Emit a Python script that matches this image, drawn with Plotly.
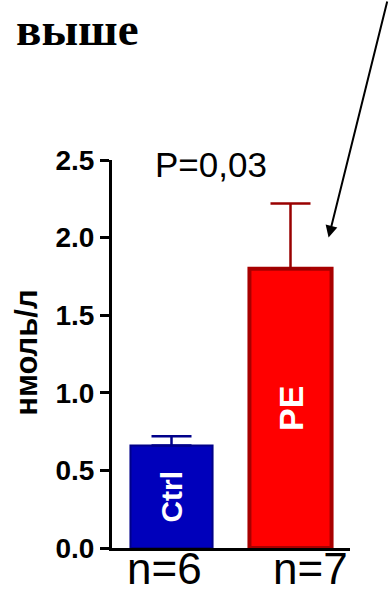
import plotly.graph_objects as go

groups = ["Ctrl", "PE"]
means = [0.66, 1.80]
sems = [0.06, 0.42]
n_labels = ["n=6", "n=7"]
fill_colors = ["#0000bb", "#ff0000"]
edge_colors = ["#00008a", "#a80000"]
err_colors = ["#00008a", "#990000"]
edge_widths = [2, 4]
y_ticks = [0.0, 0.5, 1.0, 1.5, 2.0, 2.5]
title_text = "выше"
y_label = "нмоль/л"
p_text = "P=0,03"

fig = go.Figure()
for i, g in enumerate(groups):
    fig.add_trace(go.Bar(
        x=[i], y=[means[i]], width=0.69,
        marker=dict(color=fill_colors[i], line=dict(color=edge_colors[i], width=edge_widths[i])),
        error_y=dict(type="data", symmetric=False, array=[sems[i]], arrayminus=[0],
                     color=err_colors[i], thickness=2.5, width=20),
        text=[g], textposition="inside", insidetextanchor="middle", textangle=-90,
        textfont=dict(family="Liberation Sans", size=30 if i == 0 else 34, color="white", weight="bold"),
        constraintext="none", cliponaxis=False, showlegend=False,
    ))

annotations = [
    dict(text=title_text, xref="paper", yref="paper", x=0, y=1, xanchor="left", yanchor="top",
         xshift=-98, yshift=159, showarrow=False,
         font=dict(family="Liberation Serif", size=47, color="black", weight="bold")),
    dict(text=y_label, xref="paper", yref="paper", x=0, y=0.503, xanchor="center", yanchor="middle",
         xshift=-85, textangle=-90, showarrow=False,
         font=dict(family="Liberation Sans", size=31, color="black", weight="bold")),
    dict(text=p_text, xref="x", yref="y", x=0.33, y=2.5, xanchor="center", yanchor="middle",
         yshift=-4, showarrow=False,
         font=dict(family="Liberation Sans", size=35, color="black")),
    dict(text="", xref="x", yref="y", x=1.32, y=2.0, ax=59, ay=-240, showarrow=True,
         arrowhead=2, arrowsize=1.2, arrowwidth=2, arrowcolor="black"),
]
shifts = [-7, 20]
for i, lab in enumerate(n_labels):
    annotations.append(dict(text=lab, xref="x", yref="paper", x=i, y=0, xanchor="center",
                            yanchor="bottom", xshift=shifts[i], yshift=-47, showarrow=False,
                            font=dict(family="Liberation Sans", size=44, color="black")))

fig.update_layout(
    width=391, height=595,
    margin=dict(l=112, r=41, t=160, b=47),
    paper_bgcolor="white", plot_bgcolor="white",
    barmode="overlay",
    annotations=annotations,
    xaxis=dict(range=[-0.5, 1.5], showticklabels=False, ticks="", showgrid=False, zeroline=False,
               showline=True, linecolor="black", linewidth=3, fixedrange=True),
    yaxis=dict(range=[0, 2.5], tickvals=y_ticks, tickformat=".1f", ticks="outside", ticklen=9,
               tickwidth=3, tickcolor="black", showgrid=False, zeroline=False, showline=True,
               linecolor="black", linewidth=3, ticklabelstandoff=0,
               tickfont=dict(family="Liberation Sans", size=28, color="black", weight="bold")),
)
fig.write_html("out.html", config={"displayModeBar": False},
               post_script="document.body.style.margin='0';document.body.style.padding='0';")
